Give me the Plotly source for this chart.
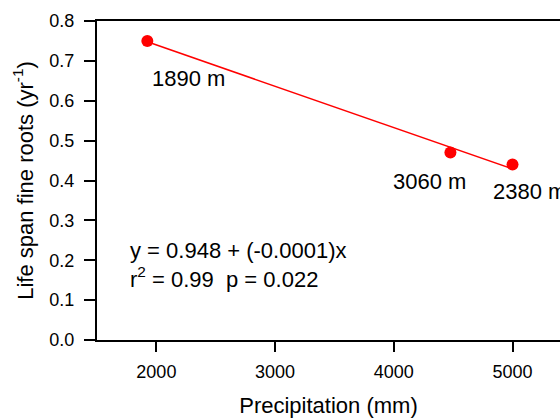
import numpy as np
import plotly.graph_objects as go

precip = [1924, 4477, 5000]
lifespan = [0.75, 0.47, 0.44]
site_labels = ["1890 m", "3060 m", "2380 m"]
x_ticks = [2000, 3000, 4000, 5000]
y_ticks = [0.0, 0.1, 0.2, 0.3, 0.4, 0.5, 0.6, 0.7, 0.8]
eq_text = "y = 0.948 + (-0.0001)x<br>r<sup>2</sup> = 0.99  p = 0.022"

slope, intercept = np.polyfit(precip, lifespan, 1)
fit_x = [min(precip), max(precip)]
fit_y = [intercept + slope * v for v in fit_x]

FONT = "Arial, 'Liberation Sans', sans-serif"
RED = "#ff0000"

fig = go.Figure()
fig.add_trace(go.Scatter(x=fit_x, y=fit_y, mode="lines",
                         line=dict(color=RED, width=1.5), showlegend=False))
fig.add_trace(go.Scatter(x=precip, y=lifespan, mode="markers",
                         marker=dict(color=RED, size=12), showlegend=False))

# label offsets (pixels): (xanchor, xshift, yshift)
offsets = [("left", 3, -38), ("center", -21, -29), ("left", -22, -27)]
for xv, yv, lab, (xa, xs, ys) in zip(precip, lifespan, site_labels, offsets):
    fig.add_annotation(x=xv, y=yv, text=lab, showarrow=False, xanchor=xa,
                       yanchor="middle", xshift=xs, yshift=ys,
                       font=dict(size=22, color="black", family=FONT))

fig.add_annotation(xref="paper", yref="paper", x=0.068, y=0.236, text=eq_text,
                   showarrow=False, xanchor="left", yanchor="middle", align="left",
                   font=dict(size=22, color="black", family=FONT))

fig.update_layout(
    width=560, height=418,
    margin=dict(l=97, r=0, t=21, b=78),
    paper_bgcolor="white", plot_bgcolor="white",
    font=dict(family=FONT, color="black"),
    xaxis=dict(range=[1500, 5400], tickvals=x_ticks, ticktext=[str(v) for v in x_ticks],
               showline=True, linecolor="black", linewidth=2, mirror=True,
               ticks="outside", ticklen=10, tickwidth=2, tickcolor="black",
               showgrid=False, zeroline=False, ticklabelstandoff=4,
               tickfont=dict(size=18, family=FONT),
               title=dict(text="Precipitation (mm)", font=dict(size=22, family=FONT), standoff=20)),
    yaxis=dict(range=[0, 0.8], tickvals=y_ticks, ticktext=[f"{v:.1f}" for v in y_ticks],
               showline=True, linecolor="black", linewidth=2,
               ticks="outside", ticklen=11, tickwidth=2, tickcolor="black",
               showgrid=False, zeroline=False, ticklabelstandoff=6,
               tickfont=dict(size=18, family=FONT),
               title=dict(text="Life span fine roots (yr<sup>-1</sup>)",
                          font=dict(size=22, family=FONT), standoff=10)),
)

fig.write_html("out.html")
